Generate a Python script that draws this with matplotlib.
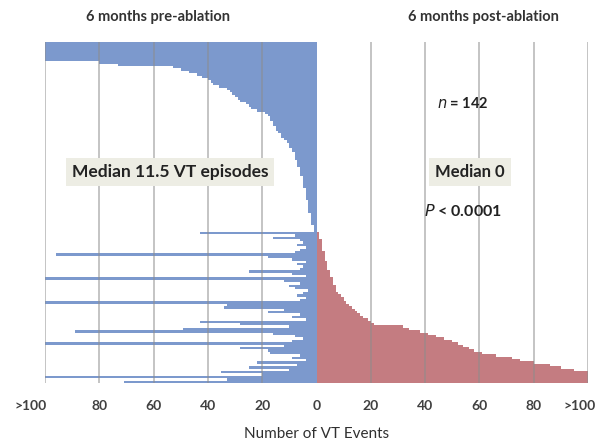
import numpy as np
import matplotlib
matplotlib.use('Agg')
import matplotlib.pyplot as plt
from matplotlib.transforms import ScaledTranslation

# rows with no VT after ablation, sorted by pre-ablation count (top of chart)
pre_zero_post = [100, 100, 100, 100, 100, 100, 100, 100,
                 80, 73, 53, 50, 47, 44, 42, 40, 39, 38, 36, 33, 32, 31, 30,
                 29, 28, 26, 25, 24, 22, 19, 18, 17, 17, 16, 16, 15, 15, 14,
                 13, 13, 12, 11, 10, 10, 9, 9, 8, 8, 8, 7, 7, 7, 6, 6, 6, 6,
                 5, 5, 5, 5, 5, 4, 4, 4, 4, 4, 3, 3, 3, 3, 3, 2, 2, 2, 2, 2,
                 1, 1, 1]

# rows with recurrent VT, sorted by post-ablation count
pre_recur = [43, 8, 16, 6, 5, 7, 4, 6, 8, 96, 18, 9, 4, 7, 5, 6, 25, 9, 4, 100,
             12, 6, 10, 8, 3, 5, 7, 4, 6, 100, 33, 34, 12, 18, 6, 9, 4, 43, 28,
             10, 49, 89, 16, 8, 5, 9, 100, 12, 28, 18, 17, 6, 9, 4, 22, 7, 25,
             10, 35, 20, 100, 33, 71]
post_recur = [1, 1, 1, 2, 2, 2, 2, 2, 3, 3, 3, 3, 4, 4, 4, 4, 5, 5, 5, 6, 6, 6,
              7, 7, 7, 8, 9, 10, 10, 11, 12, 13, 14, 15, 16, 17, 19, 20, 21, 32,
              34, 38, 41, 44, 47, 50, 52, 54, 56, 58, 61, 66, 72, 75, 80, 86, 90,
              95, 100, 100, 100, 100, 100]

tick_vals = [-100, -80, -60, -40, -20, 0, 20, 40, 60, 80, 100]
tick_labels = ['>100', '80', '60', '40', '20', '0', '20', '40', '60', '80', '>100']

pre = np.array(pre_zero_post + pre_recur, dtype=float)
post = np.array([0] * len(pre_zero_post) + post_recur, dtype=float)
n = len(pre)
rows = np.arange(n)

plt.rcParams['font.family'] = ['Lato', 'DejaVu Sans']

fig = plt.figure(figsize=(5.99, 4.43), dpi=100)
ax = fig.add_axes([45 / 599, 1 - 383 / 443, 543 / 599, 341 / 443])

ax.barh(rows, -pre, height=1.0, color='#7c99cd', linewidth=0, zorder=2)
ax.barh(rows, post, height=1.0, color='#c47c81', linewidth=0, zorder=2)

for v in tick_vals:
    if v != 0:
        ax.axvline(v, color='#8c8c8c', lw=1.2, alpha=0.6, zorder=3)

ax.set_xlim(-100, 100)
ax.set_ylim(n - 0.5, -0.5)
ax.set_xticks(tick_vals)
ax.set_xticklabels(tick_labels, fontsize=10, fontweight='bold', color='#404040')
ax.tick_params(axis='x', length=0, pad=12)
ax.set_yticks([])
for s in ax.spines.values():
    s.set_visible(False)

# the two ">100" labels sit off-centre, as in the original
lbls = ax.get_xticklabels()
lbls[0].set_transform(lbls[0].get_transform() + ScaledTranslation(-14 / 100, 0, fig.dpi_scale_trans))
lbls[-1].set_transform(lbls[-1].get_transform() + ScaledTranslation(-8 / 100, 0, fig.dpi_scale_trans))

ax.set_xlabel('Number of VT Events', fontsize=11, color='#303030', labelpad=11)

fig.text(158 / 599, 1 - 17 / 443, '6 months pre-ablation', ha='center', va='center',
         fontsize=10.5, fontweight='bold', color='#333333')
fig.text(483 / 599, 1 - 17 / 443, '6 months post-ablation', ha='center', va='center',
         fontsize=10.5, fontweight='bold', color='#333333')

box = dict(boxstyle='square,pad=0.35', facecolor='#ededE4', edgecolor='none')
ax.text(-54, 53.7, 'Median 11.5 VT episodes', ha='center', va='center',
        fontsize=12.5, fontweight='bold', color='#222222', bbox=box, zorder=5)
ax.text(56.5, 53.7, 'Median 0', ha='center', va='center',
        fontsize=12, fontweight='bold', color='#222222', bbox=box, zorder=5)
ax.text(54, 25, '$\\bf{\\it{n}}$ = 142', ha='center', va='center',
        fontsize=10.5, fontweight='bold', color='#222222', zorder=5)
ax.text(54, 70, '$\\bf{\\it{P}}$ < 0.0001', ha='center', va='center',
        fontsize=11.5, fontweight='bold', color='#222222', zorder=5)

fig.savefig('out.png', dpi=100)
